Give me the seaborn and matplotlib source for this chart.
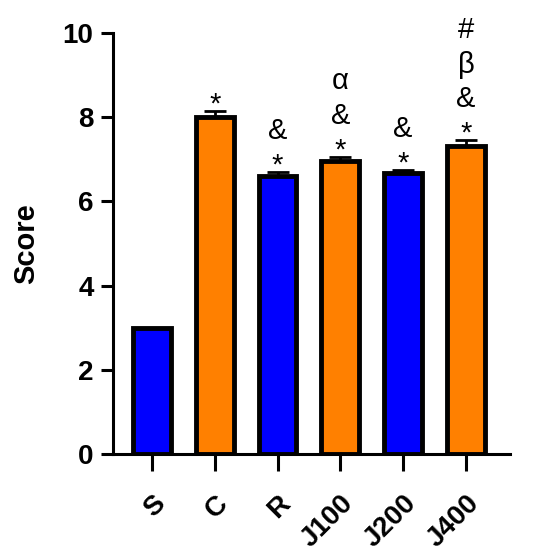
import pandas as pd
import matplotlib
matplotlib.use('Agg')
import matplotlib.pyplot as plt
import seaborn as sns
import numpy as np

sns.set_style('ticks')
plt.rcParams['font.family'] = ['Liberation Sans', 'DejaVu Sans']
plt.rcParams['text.color'] = 'black'
plt.rcParams['axes.labelcolor'] = 'black'
plt.rcParams['xtick.color'] = 'black'
plt.rcParams['ytick.color'] = 'black'
plt.rcParams['axes.edgecolor'] = 'black'

# 数据
groups = ['S', 'C', 'R', 'J100', 'J200', 'J400']
scores = [3.0, 8.0, 6.6, 6.95, 6.68, 7.32]
errors = [0.0, 0.15, 0.1, 0.1, 0.07, 0.13]
marks = ['', '*', '*\n&', '*\n&\nα', '*\n&', '*\n&\nβ\n#']
bar_colors = ['#0000FF', '#FF8000', '#0000FF', '#FF8000', '#0000FF', '#FF8000']

df = pd.DataFrame({'group': groups, 'score': scores, 'err': errors})

fig = plt.figure(figsize=(5.5, 5.58), dpi=100)
ax = fig.add_axes([0.2055, 0.186, 0.7215, 0.755])

sns.barplot(data=df, x='group', y='score', hue='group',
            palette=dict(zip(groups, bar_colors)), legend=False, saturation=1,
            width=0.6, edgecolor='black', linewidth=3.5, ax=ax)

# 单侧误差线
ax.errorbar(np.arange(len(groups)), df['score'],
            yerr=[np.zeros(len(groups)), df['err']],
            fmt='none', ecolor='black', elinewidth=2, capsize=8, capthick=2, zorder=1)

# 显著性标记
for i, (s, e, m) in enumerate(zip(scores, errors, marks)):
    if not m:
        continue
    lines = m.split('\n')[::-1]
    ax.annotate('\n'.join(lines), xy=(i, s + e), xytext=(0, -1),
                textcoords='offset points', ha='center', va='baseline',
                fontsize=21, linespacing=1.3, color='black')

ax.set_ylim(0, 10)
ax.set_xlim(-0.62, 5.7)
ax.set_yticks(np.arange(0, 11, 2))
ax.set_xlabel('')
ax.set_ylabel('Score', fontsize=21, fontweight='bold', labelpad=16)
sns.despine(ax=ax)
for sp in ['left', 'bottom']:
    ax.spines[sp].set_linewidth(2.2)
ax.tick_params(axis='y', length=9, width=2.2, labelsize=20, pad=5)
ax.tick_params(axis='x', length=12, width=2.2, labelsize=20, pad=14)
for lab in ax.get_yticklabels():
    lab.set_fontweight('bold')
for lab in ax.get_xticklabels():
    lab.set_fontweight('bold')
    lab.set_rotation(45)
    lab.set_ha('right')
    lab.set_rotation_mode('anchor')

fig.savefig('out.png', dpi=100)
